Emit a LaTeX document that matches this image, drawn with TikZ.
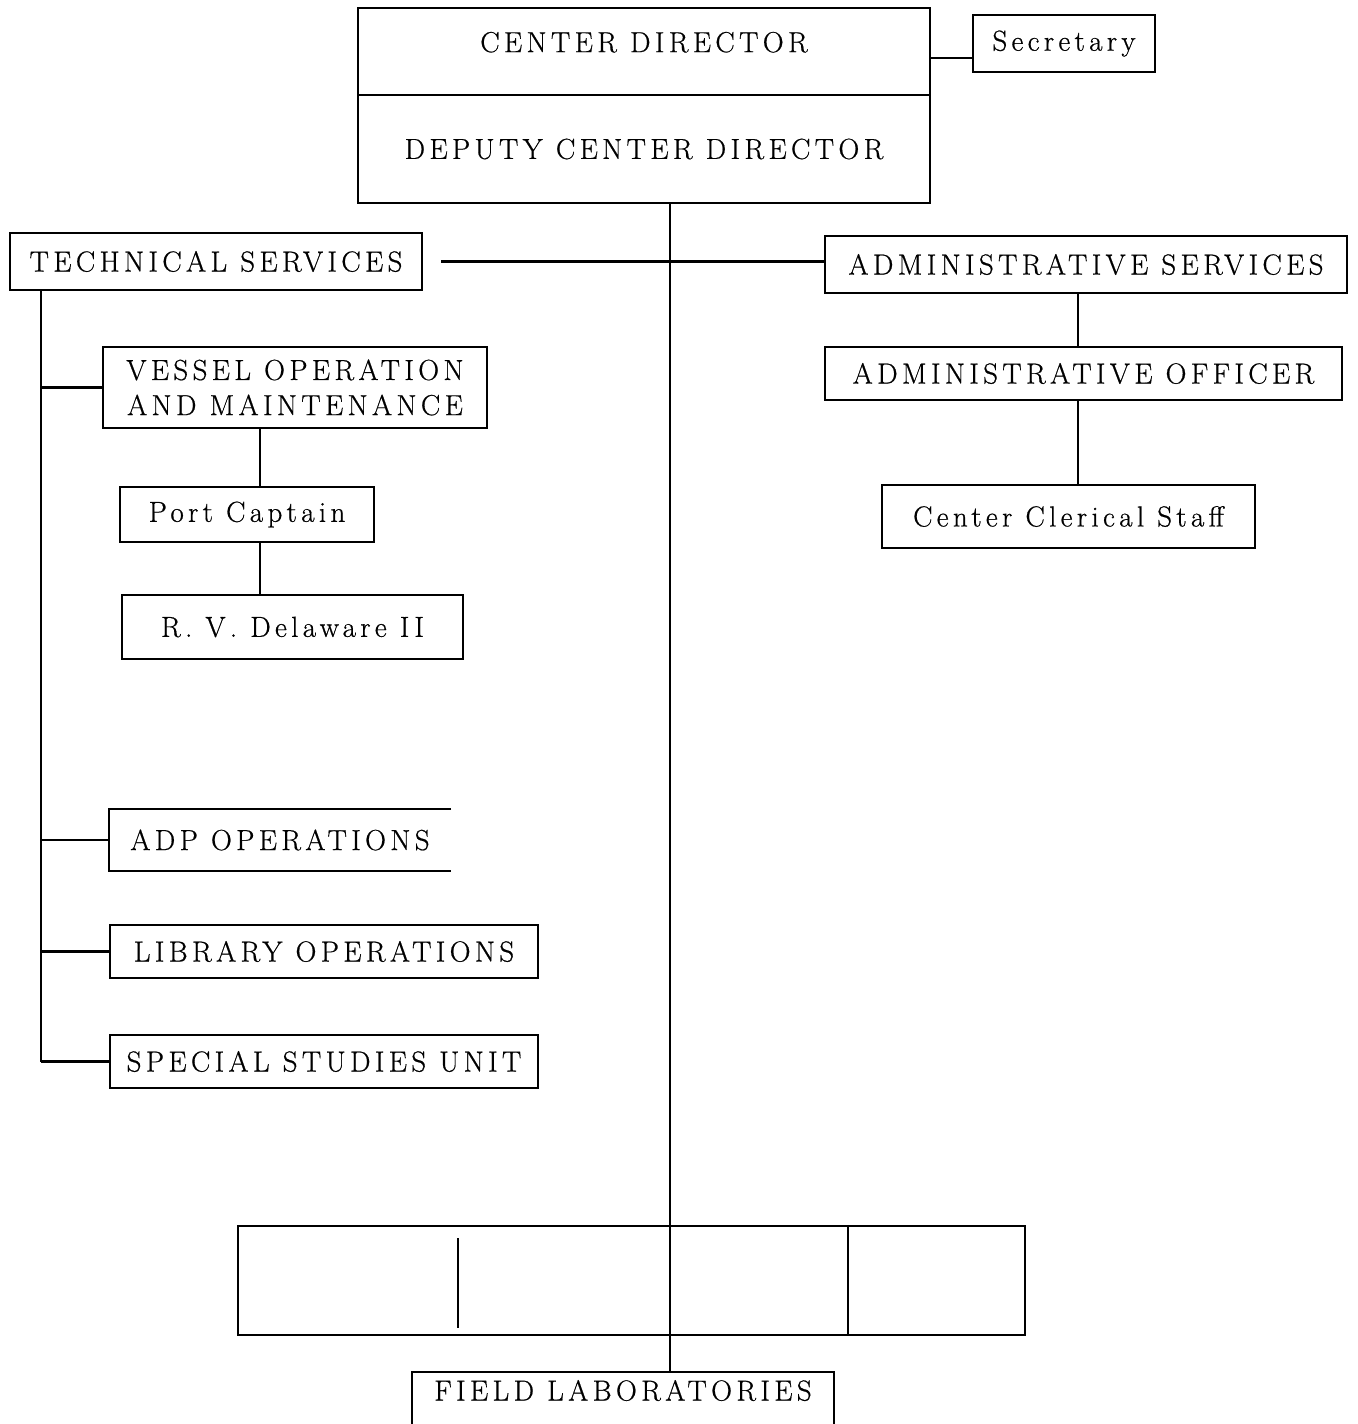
\documentclass[tikz,border=0pt]{standalone}
\usepackage{fontspec}
\setmainfont{Latin Modern Roman}[LetterSpace=15,FakeBold=0.6]
\usepackage{tikz}

\begin{document}
\begin{tikzpicture}[x=0.02cm,y=-0.02cm,line width=1.2pt,
	every node/.style={font=\fontsize{16.5}{20}\selectfont,inner sep=0pt},
	unit/.style 2 args={draw,minimum width=#1cm,minimum height=#2cm},
	open/.style 2 args={minimum width=#1cm,minimum height=#2cm}]
	\useasboundingbox (0,0) rectangle (1357,1424);

	% top of the centre
	\node[unit={11.44}{1.74},text depth=0.38cm] (dir) at (644,51.5) {CENTER DIRECTOR};
	\node[unit={11.44}{2.16}] (deputy) at (644,149) {DEPUTY CENTER DIRECTOR};
	\node[unit={3.64}{1.14}] (sec) at (1064,43.5) {Secretary};

	% the two services
	\node[unit={8.24}{1.14}] (tech) at (216,261.5) {TECHNICAL SERVICES};
	\node[unit={10.44}{1.14}] (admin) at (1086,264.5) {ADMINISTRATIVE SERVICES};
	\node[unit={10.34}{1.06}] (officer) at (1083.5,373.5) {ADMINISTRATIVE OFFICER};
	\node[unit={7.46}{1.26}] (clerical) at (1068.5,516.5) {Center Clerical Staff};

	\node[unit={7.68}{1.62},align=center] (vessel) at (295,387.5) {VESSEL OPERATION\\AND MAINTENANCE};
	\node[unit={5.08}{1.1}] (port) at (247,514.5) {Port Captain};
	\node[unit={6.82}{1.28}] (delaware) at (292.5,627) {R. V. Delaware II};

	\node[open={6.8}{1.2}] (adp) at (280,840) {ADP OPERATIONS};
	\node[unit={8.56}{1.06}] (library) at (324,951.5) {LIBRARY OPERATIONS};
	\node[unit={8.56}{1.06}] (special) at (324,1061.5) {SPECIAL STUDIES UNIT};

	% field laboratories
	\node[unit={15.74}{2.18}] (field) at (631.5,1280.5) {};
	\node[open={8.4}{1.04},anchor=north,text height=0.55cm,text depth=0.49cm] (fieldlabs) at (623,1372) {FIELD LABORATORIES};

	\coordinate (trunk) at (670,0);
	\coordinate (ltrunk) at (41,0);
	\coordinate (acol) at (1078,0);
	\coordinate (vcol) at (260,0);

	\draw (adp.north east) -- (adp.north west) -- (adp.south west) -- (adp.south east);
	\draw (fieldlabs.south west) -- (fieldlabs.north west) -- (fieldlabs.north east) -- (fieldlabs.south east);
	\draw (field.north -| 848,0) -- (field.south -| 848,0);
	\draw (458,1238) -- (458,1328);

	\draw ([yshift=-0.29cm]sec.west) -- ([yshift=-0.29cm]sec.west -| dir.east);
	\draw (trunk |- deputy.south) -- (trunk |- fieldlabs.north);
	\draw ([xshift=0.36cm]tech.east) -- (tech.east -| admin.west);

	\draw (acol |- admin.south) -- (acol |- officer.north);
	\draw (acol |- officer.south) -- (acol |- clerical.north);

	\draw (ltrunk |- tech.south) -- (ltrunk |- special.west);
	\path[draw] (ltrunk |- vessel.west) edge (vessel.west)
		(ltrunk |- adp.west) edge (adp.west)
		(ltrunk |- library.west) edge (library.west)
		(ltrunk |- special.west) edge (special.west);

	\draw (vcol |- vessel.south) -- (vcol |- port.north);
	\draw (vcol |- port.south) -- (vcol |- delaware.north);
\end{tikzpicture}
\end{document}
